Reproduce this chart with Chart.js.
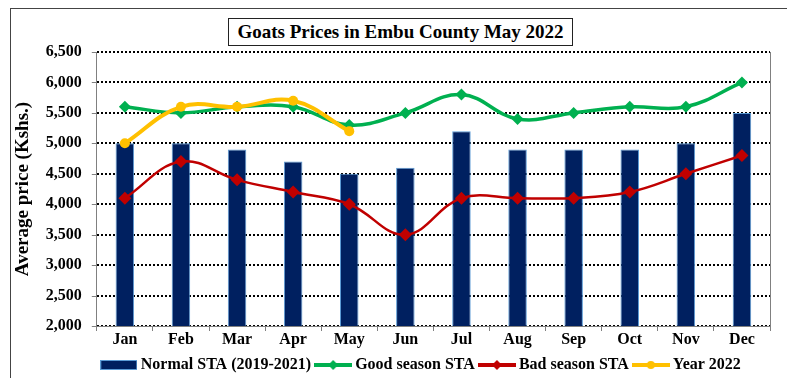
<!DOCTYPE html>
<html>
<head>
<meta charset="utf-8">
<script src="https://cdn.jsdelivr.net/npm/chart.js@4"></script>
<style>
  html, body { margin: 0; padding: 0; background: #fff; }
  #wrap { position: relative; width: 787px; height: 378px; overflow: hidden; }
  #title {
    position: absolute; left: 228px; top: 18px; width: 343px; height: 26px;
    border: 1px solid #222; background: #fff;
    font: bold 19px "Liberation Serif", "Times New Roman", serif;
    line-height: 26px; text-align: center; color: #000; white-space: nowrap;
  }
</style>
</head>
<body>
<div id="wrap">
  <canvas id="myChart"></canvas>
  <div id="title">Goats Prices in Embu County May 2022</div>
</div>
<script>
const months = ['Jan', 'Feb', 'Mar', 'Apr', 'May', 'Jun', 'Jul', 'Aug', 'Sep', 'Oct', 'Nov', 'Dec'];
const normalSta = [5000, 5000, 4900, 4700, 4500, 4600, 5200, 4900, 4900, 4900, 5000, 5500];
const goodSeason = [5600, 5500, 5600, 5600, 5300, 5500, 5800, 5400, 5500, 5600, 5600, 6000];
const badSeason = [4100, 4700, 4400, 4200, 4000, 3500, 4100, 4100, 4100, 4200, 4500, 4800];
const year2022 = [5000, 5600, 5600, 5700, 5200];
const yTicks = [2000, 2500, 3000, 3500, 4000, 4500, 5000, 5500, 6000, 6500];

const serif = '"Liberation Serif", "Times New Roman", serif';
const navy = '#002060';
const green = '#00B050';
const red = '#C00000';
const gold = '#FFC000';

// little canvases used as legend swatches
function swatchLine(color, marker) {
    var c = document.createElement('canvas');
    c.width = 38; c.height = 14;
    var g = c.getContext('2d');
    g.strokeStyle = color;
    g.lineWidth = 4;
    g.beginPath(); g.moveTo(0, 7); g.lineTo(38, 7); g.stroke();
    g.fillStyle = color;
    g.beginPath();
    if (marker === 'diamond') {
        g.moveTo(19, 2); g.lineTo(24, 7); g.lineTo(19, 12); g.lineTo(14, 7);
    } else {
        g.arc(19, 7, 4, 0, Math.PI * 2);
    }
    g.closePath(); g.fill();
    return c;
}
function swatchBar() {
    var c = document.createElement('canvas');
    c.width = 37; c.height = 10;
    var g = c.getContext('2d');
    g.fillStyle = navy;
    g.fillRect(0, 0, 37, 10);
    g.strokeStyle = '#5B9BD5';
    g.lineWidth = 1;
    g.strokeRect(0.5, 0.5, 36, 9);
    return c;
}

// outer frame, the right edge of the plot area and solid y tick marks
const frames = {
    id: 'frames',
    afterDraw(chart) {
        const ctx = chart.ctx;
        const a = chart.chartArea;
        const y = chart.scales.y;
        ctx.save();
        ctx.strokeStyle = '#444';
        ctx.lineWidth = 1;
        ctx.strokeRect(10.5, 8.5, 800, 400);
        ctx.strokeStyle = '#808080';
        ctx.beginPath();
        ctx.moveTo(Math.round(a.right) + 0.5, a.top);
        ctx.lineTo(Math.round(a.right) + 0.5, a.bottom);
        yTicks.forEach(function (v) {
            const py = Math.round(y.getPixelForValue(v)) + 0.5;
            ctx.moveTo(a.left - 5, py);
            ctx.lineTo(a.left, py);
        });
        ctx.stroke();
        ctx.restore();
    }
};

const ctx = document.getElementById('myChart');
var graphData = {
    type: 'bar',
    data: {
        labels: months,
        datasets: [{
            type: 'bar',
            label: 'Normal STA (2019-2021)',
            data: normalSta,
            backgroundColor: navy,
            borderColor: '#5B9BD5',
            borderWidth: 1,
            barPercentage: 0.33,
            categoryPercentage: 1,
            order: 4
        }, {
            type: 'line',
            label: 'Good season STA',
            data: goodSeason,
            borderColor: green,
            backgroundColor: green,
            borderWidth: 3.5,
            tension: 0.4,
            pointStyle: 'rectRot',
            pointRadius: 6,
            pointBorderWidth: 0,
            order: 2
        }, {
            type: 'line',
            label: 'Bad season STA',
            data: badSeason,
            borderColor: red,
            backgroundColor: red,
            borderWidth: 2.5,
            tension: 0.4,
            pointStyle: 'rectRot',
            pointRadius: 6.5,
            pointBorderWidth: 0,
            order: 3
        }, {
            type: 'line',
            label: 'Year 2022',
            data: year2022,
            borderColor: gold,
            backgroundColor: gold,
            borderWidth: 4,
            tension: 0.4,
            pointStyle: 'circle',
            pointRadius: 5,
            pointBorderWidth: 0,
            order: 1
        }]
    },
    options: {
        responsive: true,
        maintainAspectRatio: false,
        animation: false,
        layout: { padding: { left: 12, right: 17, top: 52, bottom: -5 } },
        plugins: {
            legend: {
                position: 'bottom',
                align: 'start',
                fullSize: false,
                labels: {
                    usePointStyle: true,
                    pointStyleWidth: 28,
                    padding: 8,
                    color: '#000',
                    font: { family: serif, size: 16, weight: 'bold' },
                    generateLabels: function (chart) {
                        var styles = [swatchBar(), swatchLine(green, 'diamond'), swatchLine(red, 'diamond'), swatchLine(gold, 'circle')];
                        return chart.data.datasets.map(function (ds, i) {
                            return { text: ds.label, pointStyle: styles[i], datasetIndex: i, fontColor: '#000', lineWidth: 0, strokeStyle: 'transparent', fillStyle: 'transparent' };
                        });
                    }
                }
            },
            tooltip: { enabled: false }
        },
        scales: {
            x: {
                offset: true,
                grid: { offset: true, drawOnChartArea: false, color: '#808080', tickLength: 5 },
                border: { color: '#808080' },
                ticks: { color: '#000', font: { family: serif, size: 16, weight: 'bold', lineHeight: 2.5 }, padding: -11 }
            },
            y: {
                min: 2000,
                max: 6500,
                afterBuildTicks: function (axis) {
                    axis.ticks = yTicks.map(function (v) { return { value: v }; });
                },
                grid: { color: '#000', lineWidth: 2, tickLength: 4, drawTicks: true, tickColor: 'rgba(0,0,0,0)' },
                border: { color: '#808080', dash: [2, 2], display: true },
                ticks: {
                    color: '#000',
                    font: { family: serif, size: 16, weight: 'bold' },
                    padding: 11,
                    callback: function (v) { return v.toLocaleString('en-US'); }
                },
                title: {
                    display: true,
                    text: 'Average price (Kshs.)',
                    color: '#000',
                    font: { family: serif, size: 19, weight: 'bold' },
                    padding: { top: 0, bottom: 0 }
                }
            }
        }
    },
    plugins: [frames]
};
var myChart = new Chart(ctx, graphData);
</script>
</body>
</html>
